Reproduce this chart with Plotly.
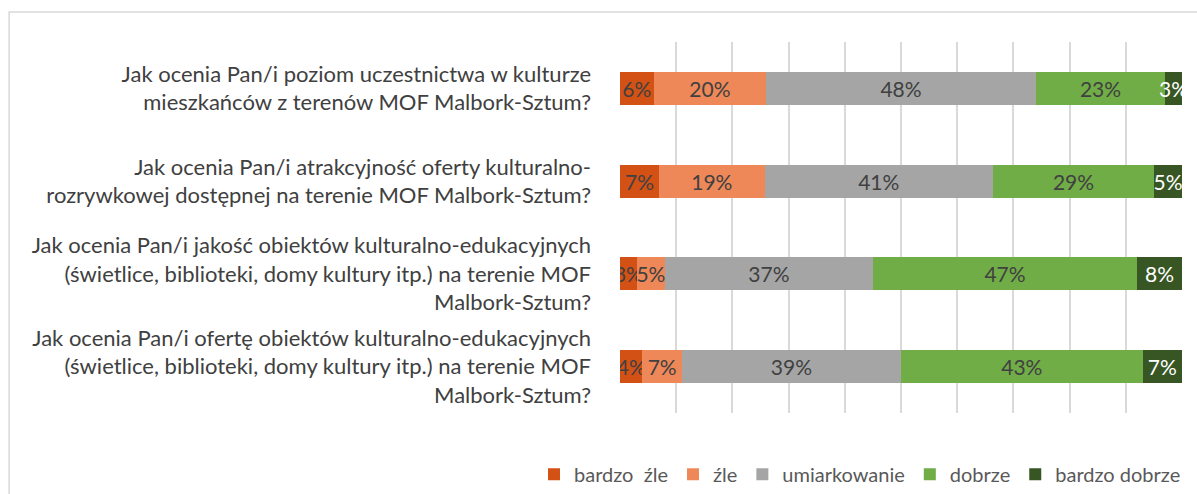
import plotly.graph_objects as go

categories = [
    "Jak ocenia Pan/i poziom uczestnictwa w kulturze<br>mieszkańców z terenów MOF Malbork-Sztum?",
    "Jak ocenia Pan/i atrakcyjność oferty kulturalno-<br>rozrywkowej dostępnej na terenie MOF Malbork-Sztum?",
    "Jak ocenia Pan/i jakość obiektów kulturalno-edukacyjnych<br>(świetlice, biblioteki, domy kultury itp.) na terenie MOF<br>Malbork-Sztum?",
    "Jak ocenia Pan/i ofertę obiektów kulturalno-edukacyjnych<br>(świetlice, biblioteki, domy kultury itp.) na terenie MOF<br>Malbork-Sztum?",
]

series_names = ["bardzo  źle", "źle", "umiarkowanie", "dobrze", "bardzo dobrze"]
bardzo_zle = [6, 7, 3, 4]
zle = [20, 19, 5, 7]
umiarkowanie = [48, 41, 37, 39]
dobrze = [23, 29, 47, 43]
bardzo_dobrze = [3, 5, 8, 7]

series_values = [bardzo_zle, zle, umiarkowanie, dobrze, bardzo_dobrze]
colors = ["#D45115", "#EE8858", "#A5A5A5", "#70AD47", "#375623"]
text_colors = ["#404040", "#404040", "#404040", "#404040", "#FFFFFF"]

FONT = "Lato"

fig = go.Figure()
for name, vals, col, tcol in zip(series_names, series_values, colors, text_colors):
    fig.add_trace(go.Bar(
        y=categories,
        x=vals,
        name=name,
        orientation="h",
        marker=dict(color=col, line=dict(width=0)),
        text=[f"{v}%" for v in vals],
        texttemplate="%{text}",
        textposition="inside",
        insidetextanchor="middle",
        textangle=0,
        insidetextfont=dict(family=FONT, size=21, color=tcol),
        hoverinfo="skip",
    ))

fig.update_layout(
    width=1197,
    height=494,
    barmode="stack",
    barnorm="percent",
    bargap=0.645,
    paper_bgcolor="white",
    plot_bgcolor="white",
    margin=dict(l=620, r=15, t=42, b=81, autoexpand=False),
    uniformtext=dict(minsize=21, mode="show"),
    font=dict(family=FONT, size=22, color="#404040"),
    xaxis=dict(
        range=[0, 100],
        dtick=10,
        showgrid=True,
        gridcolor="#D9D9D9",
        gridwidth=1.5,
        zeroline=False,
        showticklabels=False,
        showline=False,
        fixedrange=True,
        automargin=False,
    ),
    yaxis=dict(
        categoryorder="array",
        categoryarray=categories,
        autorange="reversed",
        showgrid=False,
        showline=False,
        ticks="",
        ticklabelstandoff=28,
        tickfont=dict(family=FONT, size=22, color="#404040"),
        fixedrange=True,
        automargin=False,
    ),
    legend=dict(
        orientation="h",
        x=-0.153,
        xanchor="left",
        y=-0.165,
        yanchor="middle",
        font=dict(family=FONT, size=20, color="#595959"),
        traceorder="normal",
        itemwidth=30,
    ),
    showlegend=True,
    shapes=[
        dict(
            type="rect", xref="paper", yref="paper",
            x0=-1.087, x1=1.2, y0=-0.4, y1=1.081,
            line=dict(color="#D9D9D9", width=1.5),
            fillcolor="rgba(0,0,0,0)",
            layer="below",
        )
    ],
)

fig.write_html("out.html", config={"displayModeBar": False})

# remove the default body margin so the figure sits at the page's top-left corner
with open("out.html", "r", encoding="utf-8") as f:
    html = f.read()
html = html.replace("<head>", "<head><style>html,body{margin:0;padding:0;}</style>", 1)
with open("out.html", "w", encoding="utf-8") as f:
    f.write(html)
